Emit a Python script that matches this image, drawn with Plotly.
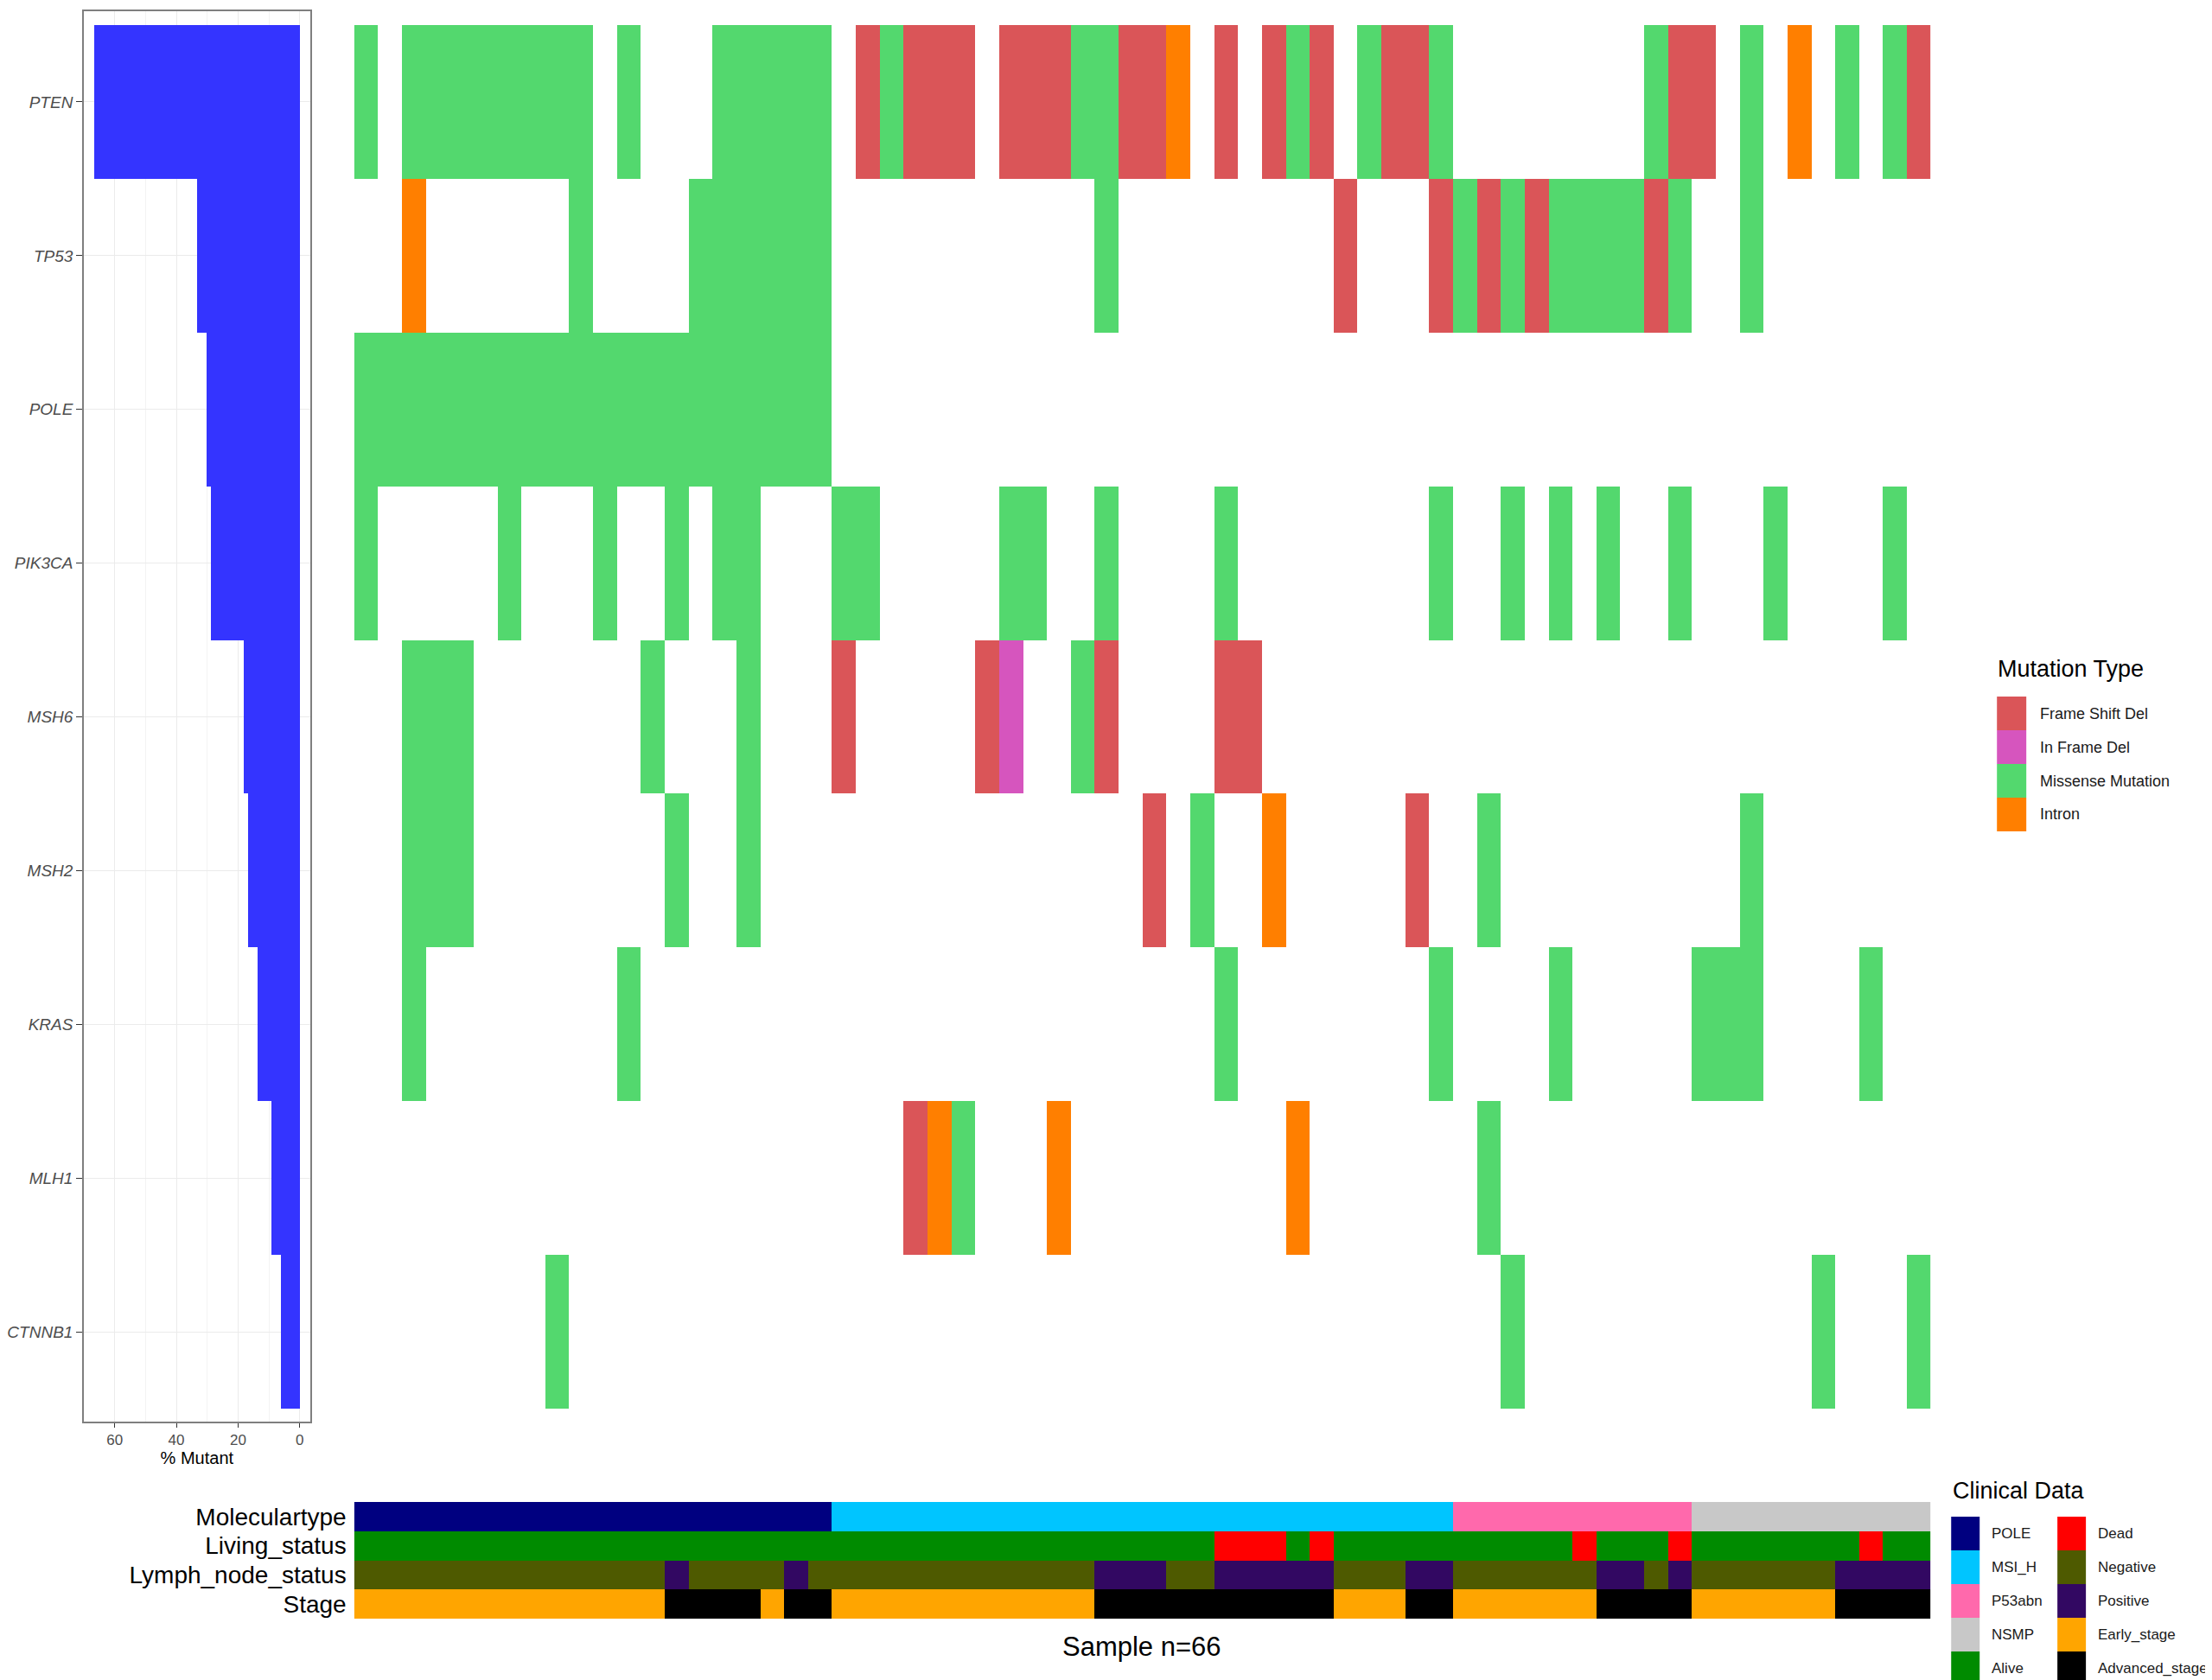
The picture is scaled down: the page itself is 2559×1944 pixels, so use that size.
import plotly.graph_objects as go

W, H = 2559, 1944
FONT = "Liberation Sans, Arial, Helvetica, sans-serif"

# ---------------- data ----------------
genes = ["PTEN", "TP53", "POLE", "PIK3CA", "MSH6", "MSH2", "KRAS", "MLH1", "CTNNB1"]

# per-sample calls (66 samples, grouped by 10 for readability)
# '.' none, F = Frame Shift Del, I = In Frame Del, M = Missense Mutation, N = Intron
PTEN   = "M.MMMMMMMM .M...MMMMM .FMFFF.FFF MMFFN.F.FM F.MFFM.... ....MFF.M. N.M.MF"
TP53   = "..N......M ....MMMMMM .......... .M........ .F...FMFMF MMMMFM..M. ......"
POLE   = "MMMMMMMMMM MMMMMMMMMM .......... .......... .......... .......... ......"
PIK3CA = "M.....M... M..M.MM... MM.....MM. .M....M... .....M..M. M.M..M...M ....M."
MSH6   = "..MMM..... ..M...M... F.....FI.. MF....FF.. .......... .......... ......"
MSH2   = "..MMM..... ...M..M... .......... ...F.M..N. ....F..M.. ........M. ......"
KRAS   = "..M....... .M........ .......... ......M... .....M.... M.....MMM. ...M.."
MLH1   = ".......... .......... ...FNM...N .........N .......M.. .......... ......"
CTNNB1 = "........M. .......... .......... .......... ........M. .......... .M...M"
gene_calls = [PTEN, TP53, POLE, PIK3CA, MSH6, MSH2, KRAS, MLH1, CTNNB1]

mut_codes = ["F", "I", "M", "N"]
mut_labels = ["Frame Shift Del", "In Frame Del", "Missense Mutation", "Intron"]
mut_colors = ["#DA5558", "#D655BE", "#53D86E", "#FF7F00"]

# clinical annotations
clin_rows = ["Moleculartype", "Living_status", "Lymph_node_status", "Stage"]
MOLECULAR = "PPPPPPPPPP PPPPPPPPPP HHHHHHHHHH HHHHHHHHHH HHHHHHAAAA AAAAAANNNN NNNNNN"
LIVING    = "AAAAAAAAAA AAAAAAAAAA AAAAAAAAAA AAAAAADDDA DAAAAAAAAA ADAAADAAAA AAADAA"
LYMPH     = "NNNNNNNNNN NNNPNNNNPN NNNNNNNNNN NPPPNNPPPP PNNNPPNNNN NNPPNPNNNN NNPPPP"
STAGE     = "EEEEEEEEEE EEEAAAAEAA EEEEEEEEEE EAAAAAAAAA AEEEAAEEEE EEAAAAEEEE EEAAAA"
clin_calls = [MOLECULAR, LIVING, LYMPH, STAGE]
clin_maps = [
    {"P": "POLE", "H": "MSI_H", "A": "P53abn", "N": "NSMP"},
    {"A": "Alive", "D": "Dead"},
    {"N": "Negative", "P": "Positive"},
    {"E": "Early_stage", "A": "Advanced_stage"},
]
clin_labels = ["POLE", "MSI_H", "P53abn", "NSMP", "Alive",
               "Dead", "Negative", "Positive", "Early_stage", "Advanced_stage"]
clin_colors = ["#000080", "#00C5FF", "#FF69AC", "#C8C8C8", "#008B00",
               "#FF0000", "#4E5A00", "#320862", "#FFA500", "#000000"]

# ---------------- derived ----------------
calls = [list(s.replace(" ", "")) for s in gene_calls]
n_samples = len(calls[0])
z_mut = [[(mut_codes.index(c) + 1) if c != "." else None for c in row] for row in calls]
pct = [100.0 * sum(c != "." for c in row) / n_samples for row in calls]

clin = [list(s.replace(" ", "")) for s in clin_calls]
z_clin = [[clin_labels.index(m[c]) + 1 for c in row] for row, m in zip(clin, clin_maps)]

def disc_scale(colors):
    n = len(colors)
    sc = []
    for i, col in enumerate(colors):
        sc.append([i / n, col])
        sc.append([(i + 1) / n, col])
    return sc

# page body adds an 8px offset; compensate so pixel positions match the target
OFF = 8

def px(x):
    return (x - OFF) / W

def py(y):
    return 1 - (y - OFF) / H

fig = go.Figure()

# bar chart of % mutant
fig.add_trace(go.Bar(
    x=pct, y=list(range(len(genes))), orientation="h", width=1.0,
    marker=dict(color="#3434FF", line=dict(width=0)),
    xaxis="x", yaxis="y", showlegend=False, hoverinfo="x+y"))

# oncoprint heatmap
fig.add_trace(go.Heatmap(
    z=z_mut, x=list(range(n_samples)), y=list(range(len(genes))),
    zmin=0.5, zmax=len(mut_codes) + 0.5, colorscale=disc_scale(mut_colors),
    showscale=False, xaxis="x2", yaxis="y2", hoverongaps=False))

# clinical tracks
fig.add_trace(go.Heatmap(
    z=z_clin, x=list(range(n_samples)), y=list(range(len(clin_rows))),
    zmin=0.5, zmax=len(clin_labels) + 0.5, colorscale=disc_scale(clin_colors),
    showscale=False, xaxis="x3", yaxis="y3"))

grid = "#EBEBEB"
fig.update_layout(
    width=W, height=H, margin=dict(l=0, r=0, t=0, b=0),
    paper_bgcolor="white", plot_bgcolor="white",
    font=dict(family=FONT, color="#000000"),
    bargap=0,
    xaxis=dict(domain=[px(95), px(357)], range=[70, -3.33],
               tickvals=[0, 20, 40, 60], ticktext=["0", "20", "40", "60"],
               ticks="outside", ticklen=5, tickcolor="#333333",
               tickfont=dict(size=17, color="#4D4D4D", family=FONT),
               showline=True, mirror=True, linecolor="#7F7F7F", linewidth=1.5,
               showgrid=True, gridcolor=grid, gridwidth=1, zeroline=False,
               minor=dict(tickvals=[10, 30, 50], showgrid=True, gridcolor="#F3F3F3"),
               title=dict(text="% Mutant", font=dict(size=20, color="#000000"), standoff=4),
               anchor="y", fixedrange=True),
    yaxis=dict(domain=[py(1645), py(13)], range=[8.584, -0.59],
               tickvals=list(range(len(genes))), ticktext=genes,
               ticks="outside", ticklen=7, tickcolor="#333333",
               tickfont=dict(size=19, color="#4D4D4D", family=FONT, style="italic"),
               showline=True, mirror=True, linecolor="#7F7F7F", linewidth=1.5,
               showgrid=True, gridcolor=grid, zeroline=False, anchor="x", fixedrange=True),
    xaxis2=dict(domain=[px(408), px(2233)], range=[-0.5, n_samples - 0.5],
                visible=False, anchor="y2", fixedrange=True),
    yaxis2=dict(domain=[py(1630), py(29)], range=[len(genes) - 0.5, -0.5],
                visible=False, anchor="x2", fixedrange=True),
    xaxis3=dict(domain=[px(408), px(2233)], range=[-0.5, n_samples - 0.5],
                visible=False, anchor="y3", fixedrange=True),
    yaxis3=dict(domain=[py(1873), py(1738)], range=[len(clin_rows) - 0.5, -0.5],
                tickvals=list(range(len(clin_rows))), ticktext=clin_rows,
                tickfont=dict(size=28, color="#000000", family=FONT),
                ticks="", ticklabelstandoff=8,
                showgrid=False, zeroline=False, showline=False, anchor="x3", fixedrange=True),
)

shapes = []
annots = []

# x-axis label for samples
annots.append(dict(text=f"Sample n={n_samples}", x=px(1320), y=py(1905), xref="paper", yref="paper",
                   showarrow=False, xanchor="center", yanchor="middle",
                   font=dict(size=31, color="#000000", family=FONT)))

# mutation legend
annots.append(dict(text="Mutation Type", x=px(2309), y=py(774), xref="paper", yref="paper",
                   showarrow=False, xanchor="left", yanchor="middle",
                   font=dict(size=27, color="#000000", family=FONT)))
for i, (lab, col) in enumerate(zip(mut_labels, mut_colors)):
    y0 = 806 + i * 39
    shapes.append(dict(type="rect", xref="paper", yref="paper",
                       x0=px(2310), x1=px(2344), y0=py(y0), y1=py(y0 + 39),
                       fillcolor=col, line=dict(width=0)))
    annots.append(dict(text=lab, x=px(2358), y=py(y0 + 19.5), xref="paper", yref="paper",
                       showarrow=False, xanchor="left", yanchor="middle",
                       font=dict(size=18, color="#1A1A1A", family=FONT)))

# clinical legend
annots.append(dict(text="Clinical Data", x=px(2257), y=py(1725), xref="paper", yref="paper",
                   showarrow=False, xanchor="left", yanchor="middle",
                   font=dict(size=27, color="#000000", family=FONT)))
for i, (lab, col) in enumerate(zip(clin_labels, clin_colors)):
    c, r = divmod(i, 5)
    bx = 2257 + c * 123
    y0 = 1755 + r * 39
    shapes.append(dict(type="rect", xref="paper", yref="paper",
                       x0=px(bx), x1=px(bx + 33), y0=py(y0), y1=py(y0 + 39),
                       fillcolor=col, line=dict(width=0)))
    annots.append(dict(text=lab, x=px(bx + 45), y=py(y0 + 19.5), xref="paper", yref="paper",
                       showarrow=False, xanchor="left", yanchor="middle",
                       font=dict(size=17, color="#1A1A1A", family=FONT)))

fig.update_layout(shapes=shapes, annotations=annots)
fig.write_html("out.html")
